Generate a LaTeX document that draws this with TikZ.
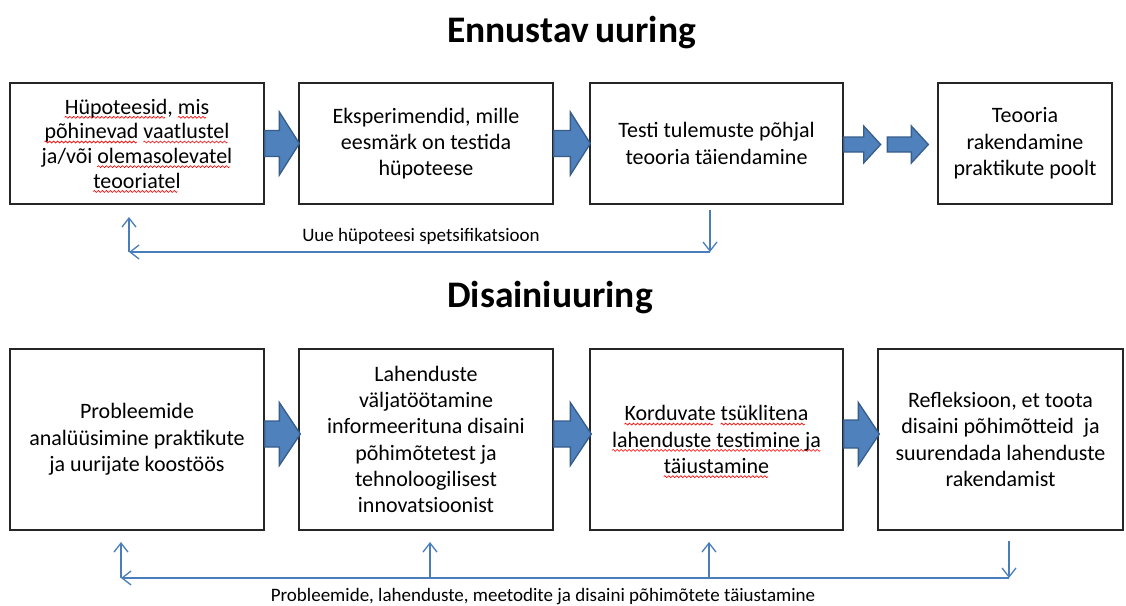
\documentclass[tikz,border=0pt]{standalone}
\usepackage{fontspec}
\setmainfont{Carlito}
\usetikzlibrary{arrows.meta,calc}

\definecolor{arrowblue}{HTML}{4F81BD}
\definecolor{arrowedge}{HTML}{385D8A}
\definecolor{loopblue}{HTML}{4A7EBB}
\definecolor{boxedge}{HTML}{262626}

% red wavy underline of a proofing tool: one period of the wave is kept in a box
% and repeated with \leaders under the word
\newsavebox\wavebox
\newsavebox\spellword
\newcommand\spellmark[1]{%
  \sbox\spellword{#1}%
  \leavevmode\rlap{\raisebox{-4.5pt}[0pt][0pt]{\leaders\copy\wavebox\hskip\wd\spellword}}%
  \usebox\spellword}

% thick block arrow from point #1 to point #2 (same height):
% #3 half shaft height, #4 half head height, #5 head length
\newcommand\blockarrow[5]{%
  \draw[blockarrowstyle] let \p1=#1, \p2=#2 in
    (\x1,{\y1+#3pt}) -- ({\x2-#5pt},{\y1+#3pt}) -- ({\x2-#5pt},{\y1+#4pt})
    -- (\x2,\y1) -- ({\x2-#5pt},{\y1-#4pt}) -- ({\x2-#5pt},{\y1-#3pt})
    -- (\x1,{\y1-#3pt}) -- cycle;}

\tikzset{
  stepbox/.style={draw=boxedge, line width=1.3pt, inner sep=0pt, align=center,
    font=\fontsize{22}{26.3}\selectfont},
  titletext/.style={font=\bfseries\fontsize{37.5}{42}\selectfont, inner sep=0pt, anchor=base west},
  looplabel/.style={font=\fontsize{19}{22}\selectfont, inner sep=0pt},
  loopline/.style={draw=loopblue, line width=1.3pt,
    -{Straight Barb[length=9pt,width=14pt,line width=1.3pt]}},
  blockarrowstyle/.style={fill=arrowblue, draw=arrowedge, line width=1.3pt, line join=miter},
}

\begin{document}
\sbox\wavebox{\pgfpicture
  \pgfpathrectangle{\pgfpoint{0pt}{-1.2pt}}{\pgfpoint{4pt}{2.4pt}}%
  \pgfusepath{use as bounding box}%
  \pgfsetstrokecolor{red}\pgfsetlinewidth{0.6pt}\pgfsetroundcap
  \pgfpathmoveto{\pgfpoint{0pt}{0pt}}%
  \pgfpathlineto{\pgfpoint{1pt}{1pt}}%
  \pgfpathlineto{\pgfpoint{3pt}{-1pt}}%
  \pgfpathlineto{\pgfpoint{4pt}{0pt}}%
  \pgfusepath{stroke}%
\endpgfpicture}%
\begin{tikzpicture}[x=1pt,y=-1pt]
\useasboundingbox (0,0) rectangle (1126,605);
\fill[white] (0,0) rectangle (1126,605);

% ---------- Ennustav uuring ----------
\node[titletext] (t1) at (447,42) {Ennustav\hspace{-2pt} uuring};

\node[stepbox, minimum width=254pt, minimum height=121pt,
      font=\fontsize{22}{24.7}\selectfont] (e1) at (137,143.5)
  {\spellmark{Hüpoteesid}, \spellmark{mis}\\
   \spellmark{põhinevad} \spellmark{vaatlustel}\\
   ja/või \spellmark{olemasolevatel}\\
   \spellmark{teooriatel}};
\node[stepbox, minimum width=254pt, minimum height=121pt] (e2) at (426,143.5)
  {Eksperimendid, mille\\ eesmärk on testida\\ hüpoteese};
\node[stepbox, minimum width=253pt, minimum height=121pt] (e3) at (716.5,143.5)
  {Testi tulemuste põhjal\\ teooria täiendamine};
\node[stepbox, minimum width=174pt, minimum height=121pt] (e4) at (1025,143.5)
  {Teooria\\ rakendamine\\ praktikute poolt};

\blockarrow{(e1.east)}{($(e2.west)+(1,0)$)}{13}{31.5}{20}
\blockarrow{(e2.east)}{($(e3.west)+(1,0)$)}{13}{31.5}{20}
\blockarrow{($(e3.east)+(0,1)$)}{($(e3.east)+(37,1)$)}{7.5}{18.5}{17}
\blockarrow{($(e4.west)+(-50,1)$)}{($(e4.west)+(-9,1)$)}{7.5}{18.5}{17}

% feedback loop
\coordinate (ea) at (710,210);
\coordinate (eb) at (710,252);
\coordinate (ec) at (129,252);
\coordinate (ed) at (129,217);
\draw[loopline] (ea) -- (eb);
\draw[loopline] (eb) -- (ec);
\draw[loopline] (ec) -- (ed);
\node[looplabel] (el) at (421,236) {Uue hüpoteesi spetsifikatsioon};

% ---------- Disainiuuring ----------
\node[titletext] (t2) at (447,307) {Disainiuuring};

\node[stepbox, minimum width=254pt, minimum height=181pt] (d1) at (137,439.5)
  {Probleemide\\ analüüsimine praktikute\\ ja uurijate koostöös};
\node[stepbox, minimum width=254pt, minimum height=181pt] (d2) at (426,439.5)
  {Lahenduste\\ väljatöötamine\\ informeerituna disaini\\ põhimõtetest ja\\
   tehnoloogilisest\\ innovatsioonist};
\node[stepbox, minimum width=253pt, minimum height=181pt] (d3) at (716.5,439.5)
  {\spellmark{Korduvate} \spellmark{tsüklitena}\\
   \spellmark{lahenduste testimine ja}\\
   \spellmark{täiustamine}};
\node[stepbox, minimum width=245pt, minimum height=181pt] (d4) at (1000.5,439.5)
  {Refleksioon, et toota\\ disaini põhimõtteid~ ja\\ suurendada lahenduste\\ rakendamist};

\blockarrow{($(d1.east)+(0,-5.5)$)}{($(d2.west)+(2,-5.5)$)}{13}{31.5}{21}
\blockarrow{($(d2.east)+(0,-5.5)$)}{($(d3.west)+(2,-5.5)$)}{13}{31.5}{21}
\blockarrow{($(d3.east)+(0,-5.5)$)}{($(d4.west)+(2,-5.5)$)}{14}{31.5}{21}

% feedback loop
\coordinate (da) at (1009,541);
\coordinate (db) at (1009,578);
\coordinate (dc) at (121,578);
\coordinate (dd) at (121,542);
\coordinate (dm1) at (430,578);
\coordinate (dm1t) at (430,542);
\coordinate (dm2) at (709,578);
\coordinate (dm2t) at (709,542);
\draw[loopline] (da) -- (db);
\draw[loopline] (db) -- (dc);
\draw[loopline] (dc) -- (dd);
\draw[loopline] (dm1) -- (dm1t);
\draw[loopline] (dm2) -- (dm2t);
\node[looplabel] (dl) at (543,597) {Probleemide, lahenduste, meetodite ja disaini põhimõtete täiustamine};
\end{tikzpicture}
\end{document}
